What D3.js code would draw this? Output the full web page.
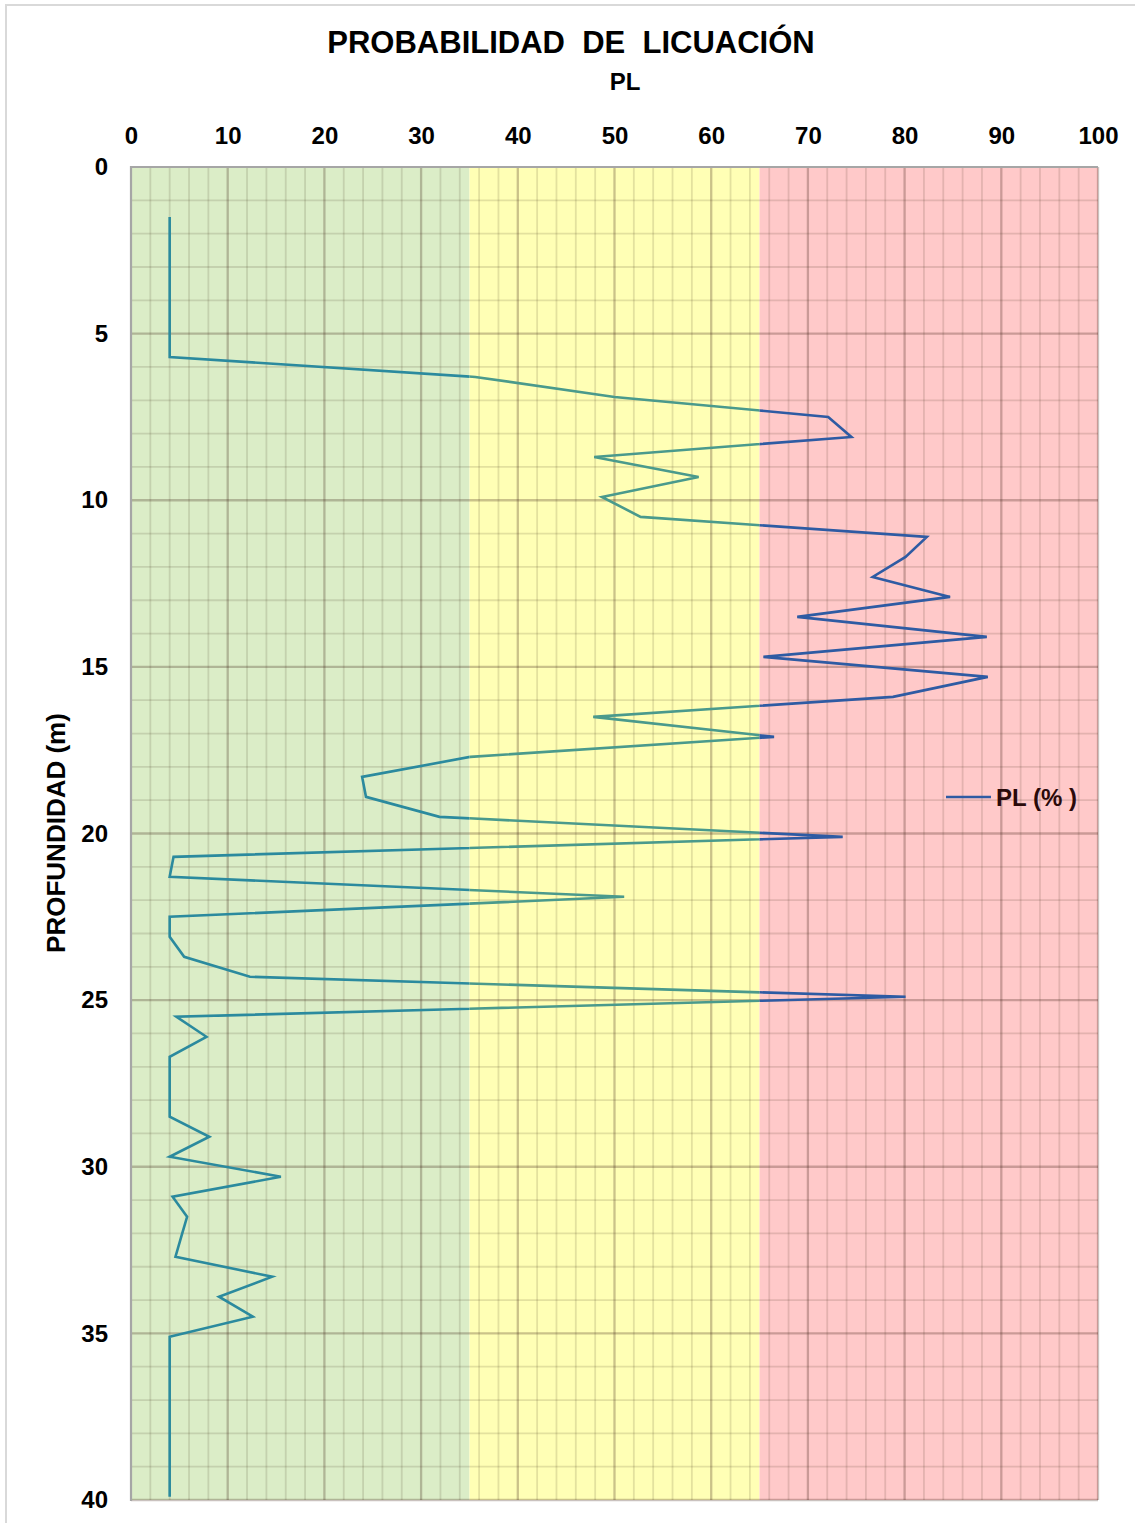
<!DOCTYPE html>
<html><head><meta charset="utf-8">
<script src="https://cdn.jsdelivr.net/npm/d3@7"></script>
<style>body{margin:0;background:#fff}svg{display:block}text{font-family:"Liberation Sans",Arial,sans-serif;font-weight:bold}</style>
</head><body>
<script>
const depths = [1.5,2.1,2.7,3.3,3.9,4.5,5.1,5.7,6.3,6.9,7.5,8.1,8.7,9.3,9.9,10.5,11.1,11.7,12.3,12.9,13.5,14.1,14.7,15.3,15.9,16.5,17.1,17.7,18.3,18.9,19.5,20.1,20.7,21.3,21.9,22.5,23.1,23.7,24.3,24.9,25.5,26.1,26.7,27.3,27.9,28.5,29.1,29.7,30.3,30.9,31.5,32.1,32.7,33.3,33.9,34.5,35.1,35.7,36.3,36.9,37.5,38.1,38.7,39.3,39.9];
const plValues = [4.0,4.0,4.0,4.0,4.0,4.0,4.0,4.0,35.6,50.0,72.1,74.5,47.9,58.7,48.7,52.7,82.3,80.1,76.7,84.7,68.9,88.5,65.4,88.6,78.8,47.8,66.5,35.1,23.9,24.3,31.9,73.6,4.4,4.0,51.0,4.0,4.0,5.5,12.3,80.1,4.7,7.8,4.0,4.0,4.0,4.0,8.1,4.0,15.5,4.3,5.8,5.2,4.6,14.6,9.1,12.6,4.0,4.0,4.0,4.0,4.0,4.0,4.0,4.0,4.0];
const xTicks = [0,10,20,30,40,50,60,70,80,90,100];
const yTicks = [0,5,10,15,20,25,30,35,40];
const zones = [
  {from:0, to:35, fill:"#DBEDC7", line:"#2B8A9E"},
  {from:35, to:65, fill:"#FFFFB5", line:"#4A9A8C"},
  {from:65, to:100, fill:"#FFC9C9", line:"#2E5BA3"}
];
const title = "PROBABILIDAD\u00A0 DE\u00A0 LICUACIÓN";
const xTitle = "PL";
const yTitle = "PROFUNDIDAD (m)";
const legendLabel = "PL (% )";

const W = 1135, H = 1523;
const svg = d3.select("body").append("svg").attr("width", W).attr("height", H);
svg.append("rect").attr("x",6).attr("y",5).attr("width",1140).attr("height",1530)
  .attr("fill","none").attr("stroke","#d9d9d9").attr("stroke-width",2);

const x = d3.scaleLinear().domain([0,100]).range([131,1098]);
const y = d3.scaleLinear().domain([0,40]).range([167,1500]);

svg.selectAll("rect.zone").data(zones).join("rect").attr("class","zone")
  .attr("x", d=>x(d.from)).attr("y", y(0)).attr("width", d=>x(d.to)-x(d.from)).attr("height", y(40)-y(0))
  .attr("fill", d=>d.fill);

const g = svg.append("g");
const minorX = d3.range(0,101,2).filter(v=>v%10!==0);
const minorY = d3.range(0,41,1).filter(v=>v%5!==0);
g.selectAll("line.mx").data(minorX).join("line").attr("x1",d=>x(d)).attr("x2",d=>x(d)).attr("y1",y(0)).attr("y2",y(40))
  .attr("stroke","rgba(60,40,20,0.14)").attr("stroke-width",1.8);
g.selectAll("line.my").data(minorY).join("line").attr("y1",d=>y(d)).attr("y2",d=>y(d)).attr("x1",x(0)).attr("x2",x(100))
  .attr("stroke","rgba(60,40,20,0.14)").attr("stroke-width",1.8);
g.selectAll("line.MX").data(xTicks.slice(1)).join("line").attr("x1",d=>x(d)).attr("x2",d=>x(d)).attr("y1",y(0)).attr("y2",y(40))
  .attr("stroke","rgba(60,30,20,0.27)").attr("stroke-width",2.3);
g.selectAll("line.MY").data(yTicks.slice(1)).join("line").attr("y1",d=>y(d)).attr("y2",d=>y(d)).attr("x1",x(0)).attr("x2",x(100))
  .attr("stroke","rgba(60,30,20,0.27)").attr("stroke-width",2.3);
svg.append("line").attr("x1",x(0)).attr("x2",x(0)).attr("y1",y(0)-1).attr("y2",y(40)+1).attr("stroke","#a6a6a6").attr("stroke-width",2.2);
svg.append("line").attr("x1",x(0)).attr("x2",x(100)).attr("y1",y(0)).attr("y2",y(0)).attr("stroke","#a6a6a6").attr("stroke-width",2.2);

const xAxis = d3.axisTop(x).tickValues(xTicks).tickSize(0).tickPadding(0);
const xa = svg.append("g").attr("transform","translate(0,144)").call(xAxis);
xa.select(".domain").remove();
xa.selectAll("text").attr("font-size",24).attr("fill","#000").attr("dy",0)
  .attr("font-family","'Liberation Sans',Arial,sans-serif").attr("font-weight","bold");
const yAxis = d3.axisLeft(y).tickValues(yTicks).tickSize(0).tickPadding(0);
const ya = svg.append("g").attr("transform","translate(108,0)").call(yAxis);
ya.select(".domain").remove();
ya.selectAll("text").attr("font-size",24).attr("fill","#000")
  .attr("font-family","'Liberation Sans',Arial,sans-serif").attr("font-weight","bold");

const data = depths.map((d,i)=>({d, v:plValues[i]}));
const lineGen = d3.line().x(p=>x(p.v)).y(p=>y(p.d));
const defs = svg.append("defs");
zones.forEach((z,i)=>{
  defs.append("clipPath").attr("id","clip"+i).append("rect")
    .attr("x", x(z.from)-(i===0?20:0)).attr("y",0).attr("width", x(z.to)-x(z.from)+(i===0?20:0)+(i===2?20:0)).attr("height",H);
  svg.append("path").datum(data).attr("d",lineGen).attr("fill","none")
    .attr("stroke",z.line).attr("stroke-width",2.6).attr("stroke-linejoin","miter")
    .attr("clip-path","url(#clip"+i+")");
});

svg.append("text").attr("x",571).attr("y",53).attr("text-anchor","middle").attr("font-size",31).attr("fill","#000").text(title);
svg.append("text").attr("x",625).attr("y",90).attr("text-anchor","middle").attr("font-size",24).attr("fill","#000").text(xTitle);
svg.append("text").attr("transform","translate(65,833) rotate(-90)").attr("text-anchor","middle").attr("font-size",26).attr("fill","#000").text(yTitle);

svg.append("line").attr("x1",946).attr("x2",991).attr("y1",797).attr("y2",797).attr("stroke","#2E5BA3").attr("stroke-width",2.6);
svg.append("text").attr("x",996).attr("y",806).attr("font-size",24).attr("fill","#2a0a0a").text(legendLabel);
</script>
</body></html>
